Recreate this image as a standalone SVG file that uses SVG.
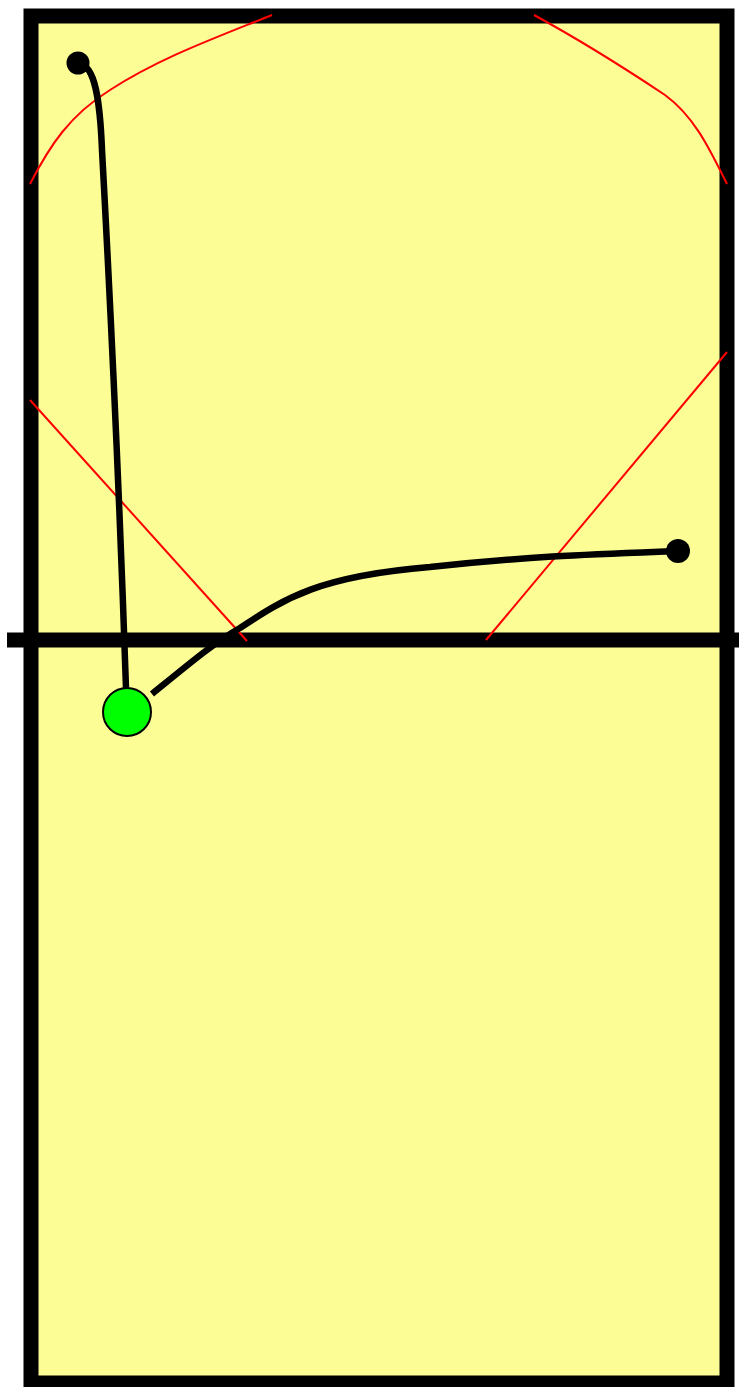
<svg xmlns="http://www.w3.org/2000/svg" width="739" height="1387" viewBox="0 0 739 1387">
<style>
.court{fill:#fdfd96;stroke:#000;stroke-width:15}
.red{fill:none;stroke:#ff0000;stroke-width:2}
.move{fill:none;stroke:#000;stroke-width:6.5}
</style>
<rect width="739" height="1387" fill="#fff"/>
<g id="court">
<rect class="court" x="31" y="16" width="696" height="1367"/>
<line x1="7" y1="640" x2="739" y2="640" stroke="#000" stroke-width="15"/>
</g>
<g id="zones">
<path class="red" d="M 30 184 C 50 145, 70 115, 110 90 C 160 58, 210 40, 272 15"/>
<path class="red" d="M 534 15 C 580 40, 620 65, 665 95 C 695 117, 710 150, 727 184"/>
<line class="red" x1="30" y1="400" x2="247" y2="641"/>
<line class="red" x1="727" y1="352" x2="486" y2="640"/>
</g>
<g id="connectors">
<path class="move" d="M 80 64 C 95 66, 100 100, 102 150 C 108 260, 118 450, 126 688"/>
<path class="move" d="M 152 694 C 190 663, 215 642, 240 628 C 285 598, 320 576, 430 567 C 530 556, 600 554, 678 551"/>
</g>
<g id="start-dot"><circle cx="78" cy="63" r="11.5" fill="#000"/></g>
<g id="end-dot"><circle cx="678" cy="551" r="12" fill="#000"/></g>
<g id="player"><circle cx="127" cy="712" r="24" fill="#00ff00" stroke="#000" stroke-width="2"/></g>
</svg>
